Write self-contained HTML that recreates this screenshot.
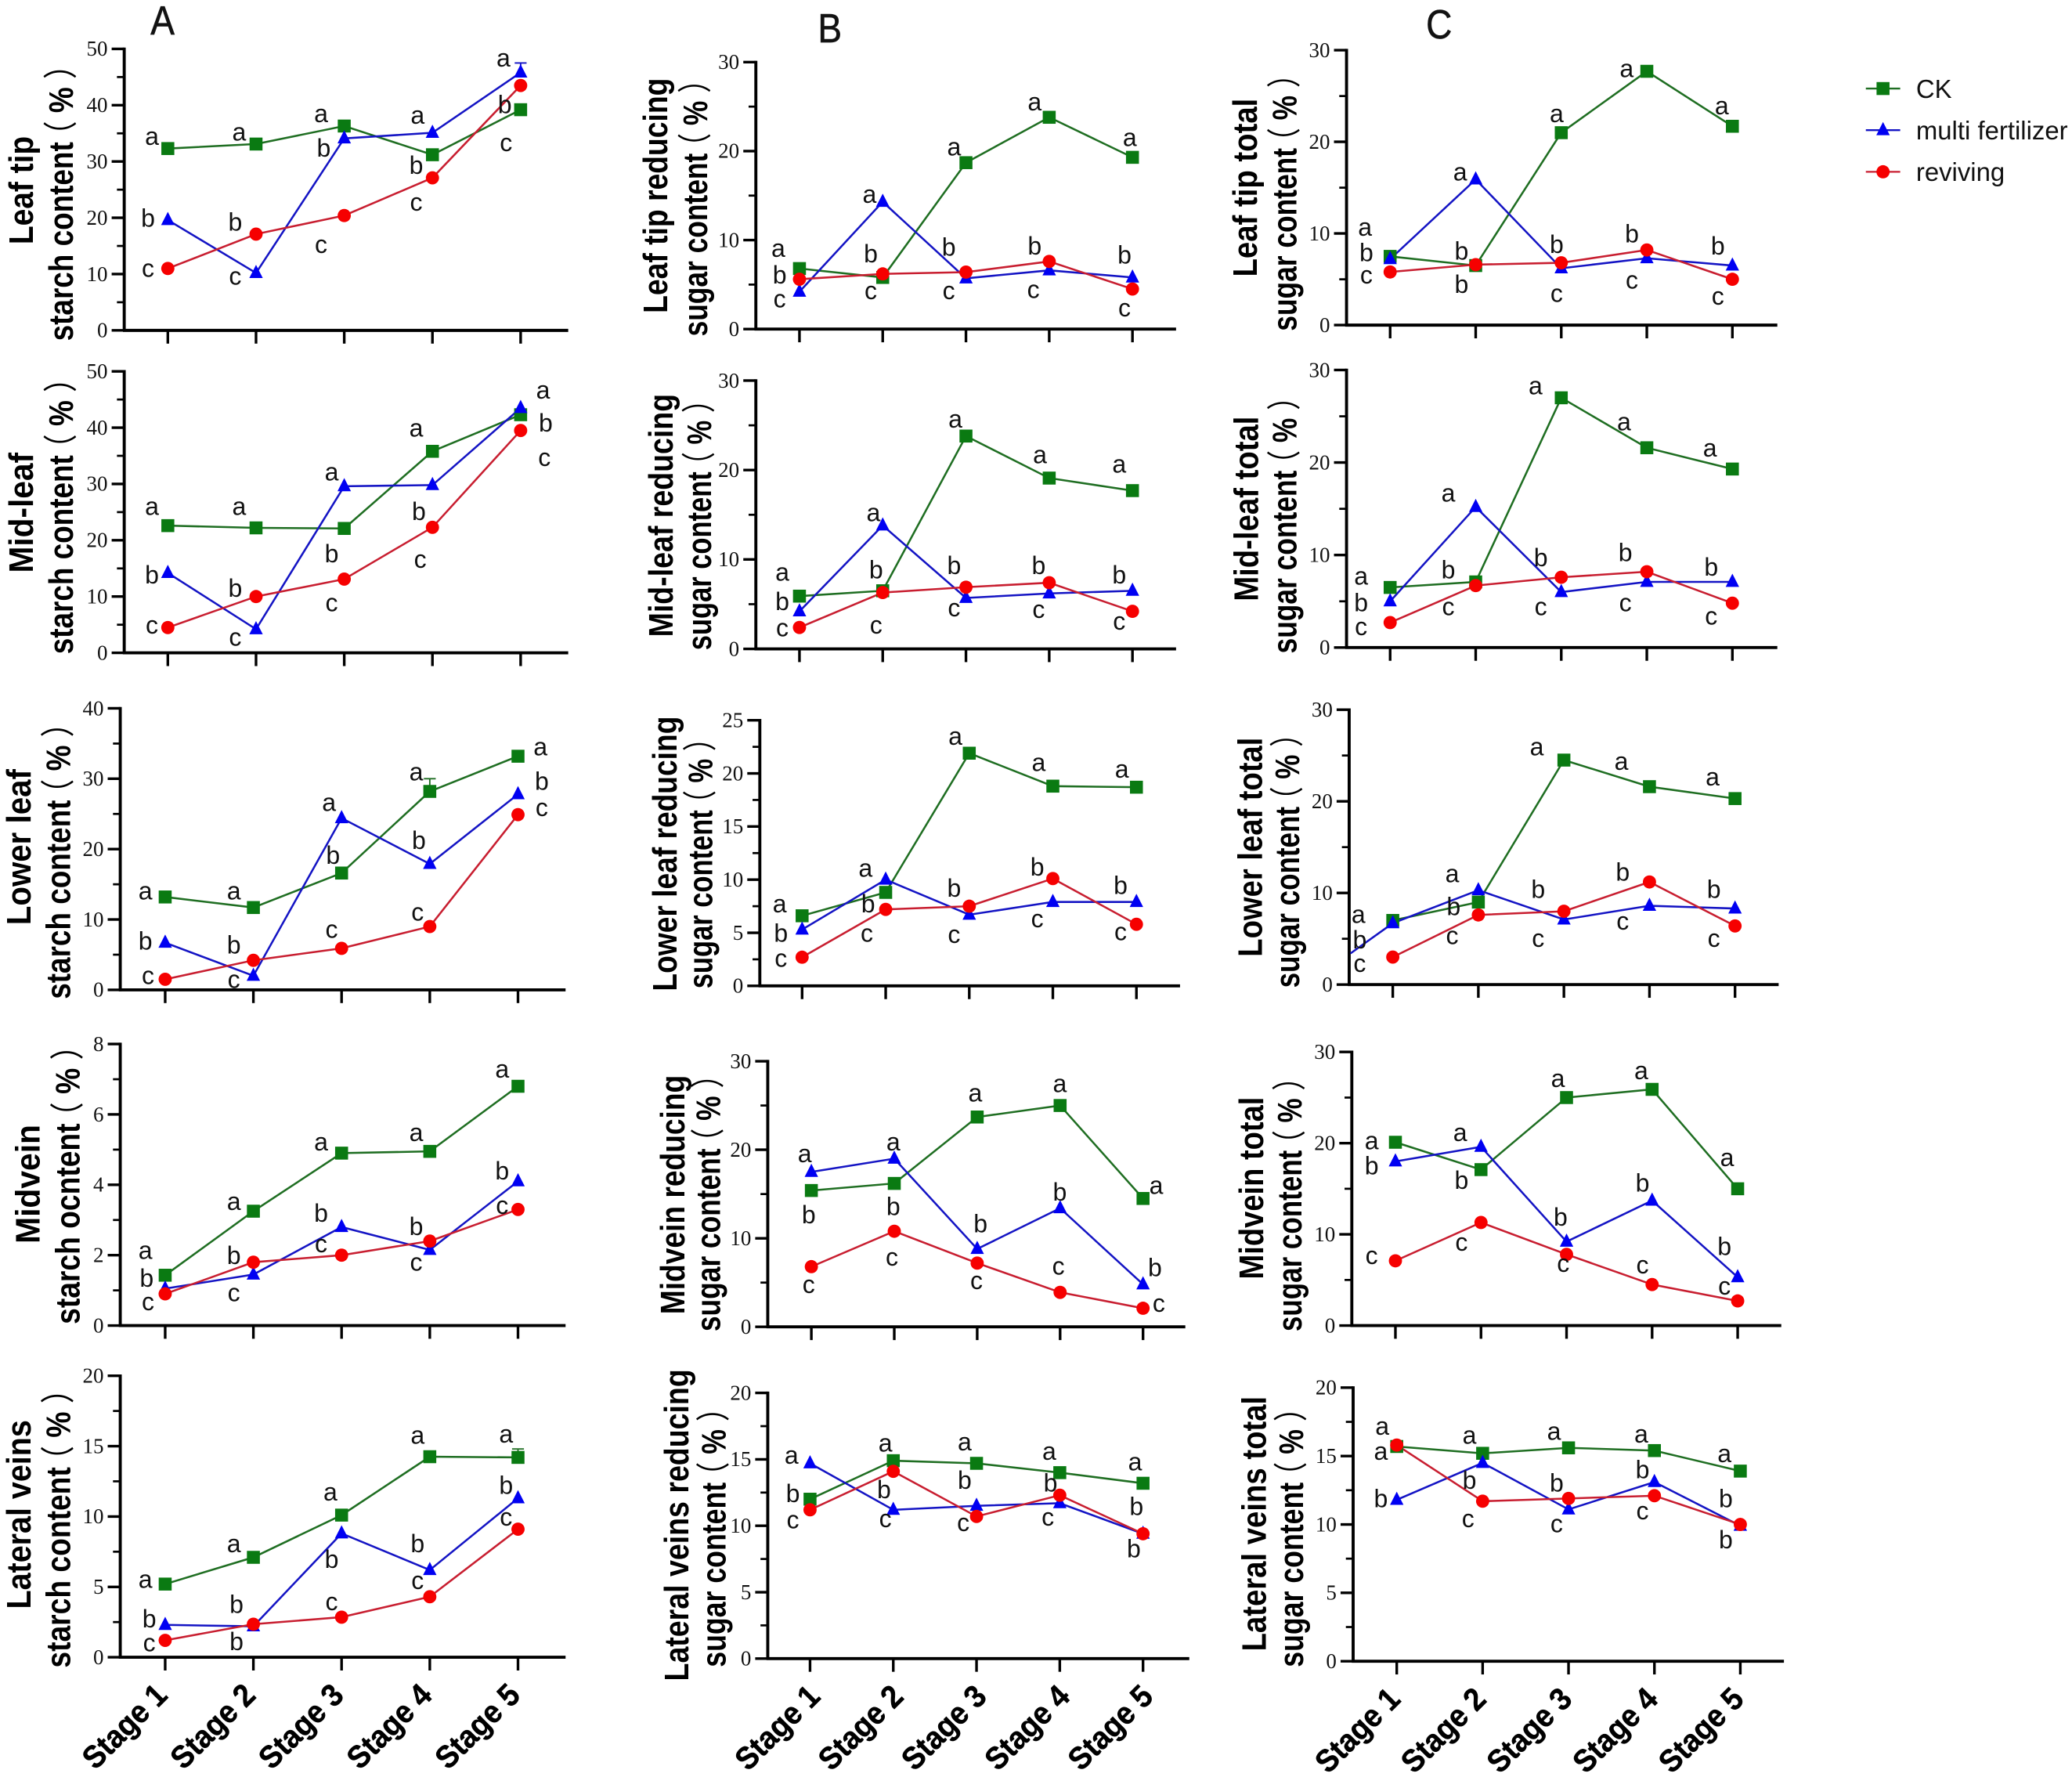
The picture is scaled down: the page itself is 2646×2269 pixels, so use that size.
<!DOCTYPE html>
<html lang="en">
<head>
<meta charset="utf-8">
<title>Starch and sugar content by leaf part and stage</title>
<style>
html,body{margin:0;padding:0;background:#fff;}
svg{display:block;}
</style>
</head>
<body>
<svg id="figure" xmlns="http://www.w3.org/2000/svg" width="2646" height="2269" viewBox="0 0 1568 1344.6"></svg>
<script>
const stages = ['Stage 1','Stage 2','Stage 3','Stage 4','Stage 5'];
const legendLabels = ['CK','multi fertilizer','reviving'];

const ticks50 = [0,10,20,30,40,50];
const ticks40 = [0,10,20,30,40];
const ticks30 = [0,10,20,30];
const ticks25 = [0,5,10,15,20,25];
const ticks20 = [0,5,10,15,20];
const ticks8 = [0,2,4,6,8];

const ckA1 = [32.3,33.1,36.3,31.2,39.2];
const mfA1 = [19.6,10.2,34.1,35.1,45.8];
const rvA1 = [11,17.1,20.4,27.1,43.5];
const ckA2 = [22.6,22.2,22.1,35.8,42.3];
const mfA2 = [14.2,4.2,29.6,29.8,43.5];
const rvA2 = [4.5,10,13.1,22.3,39.5];
const ckA3 = [13.2,11.7,16.6,28.2,33.2];
const mfA3 = [6.7,2,24.4,17.9,27.8];
const rvA3 = [1.5,4.2,5.9,9,24.9];
const ckA4 = [1.43,3.25,4.9,4.95,6.8];
const mfA4 = [1.05,1.45,2.8,2.15,4.1];
const rvA4 = [0.9,1.8,2,2.4,3.3];
const ckA5 = [5.2,7.1,10.1,14.25,14.2];
const mfA5 = [2.3,2.2,8.8,6.2,11.3];
const rvA5 = [1.2,2.35,2.85,4.3,9.1];

const ckB1 = [6.8,5.8,18.7,23.8,19.3];
const mfB1 = [4.2,14.3,5.7,6.6,5.8];
const rvB1 = [5.6,6.2,6.4,7.6,4.5];
const ckB2 = [5.9,6.5,23.8,19.1,17.7];
const mfB2 = [4.2,13.8,5.7,6.2,6.5];
const rvB2 = [2.4,6.3,6.9,7.4,4.2];
const ckB3 = [6.6,8.8,21.9,18.8,18.7];
const mfB3 = [5.3,10,6.7,7.9,7.9];
const rvB3 = [2.7,7.2,7.5,10.1,5.8];
const ckB4 = [15.4,16.2,23.7,25,14.5];
const mfB4 = [17.5,19,8.8,13.4,4.8];
const rvB4 = [6.8,10.8,7.2,3.9,2.1];
const ckB5 = [12,14.9,14.7,14,13.2];
const mfB5 = [14.7,11.2,11.5,11.7,9.4];
const rvB5 = [11.2,14.1,10.7,12.3,9.4];

const ckC1 = [7.5,6.5,21,27.7,21.7];
const mfC1 = [7.2,15.9,6.2,7.3,6.5];
const rvC1 = [5.8,6.6,6.8,8.2,5];
const ckC2 = [6.5,7.1,27,21.6,19.3];
const mfC2 = [5,15.2,6,7.1,7.1];
const rvC2 = [2.7,6.7,7.6,8.2,4.8];
const ckC3 = [7,9,24.5,21.6,20.3];
const mfC3 = [6.7,10.3,7.1,8.6,8.3];
const rvC3 = [3,7.6,8,11.2,6.4];
const ckC4 = [20.1,17.1,25,25.9,15];
const mfC4 = [18,19.6,9.2,13.7,5.3];
const rvC4 = [7.1,11.3,7.8,4.5,2.7];
const ckC5 = [15.7,15.2,15.6,15.4,13.9];
const mfC5 = [11.8,14.5,11.1,13.1,9.9];
const rvC5 = [15.8,11.7,11.9,12.1,10];

/* error-bar half-widths, only where visible in the figure */
const mfA1Err = [0,0,0,0,1.7];
const ckA3Err = [0,0,0,1.8,0];
const ckA5Err = [0,0,0,0,0.6];

/* significance-letter annotation layout: letter, centre x, centre y */
const lettersA1 = [['a',115,103],['a',181,100],['a',243,86],['a',316,87],['a',381,44],['b',112,165],['b',178,168],['b',245,112],['b',315,125],['b',382,79],['c',112,203],['c',178,209],['c',243,185],['c',315,153],['c',383,108]];
const lettersA2 = [['a',115,383],['a',181,383],['a',251,357],['a',315,324],['a',411,295],['b',115,435],['b',178,445],['b',251,419],['b',317,387],['b',413,320],['c',115,473],['c',178,482],['c',251,456],['c',318,423],['c',412,346]];
const lettersA3 = [['a',110,674],['a',177,674],['a',249,607],['a',315,584],['a',409,565],['b',110,712],['b',177,715],['b',252,647],['b',317,636],['b',410,591],['c',112,738],['c',177,741],['c',251,703],['c',316,690],['c',410,611]];
const lettersA4 = [['a',110,946],['a',177,909],['a',243,864],['a',315,857],['a',380,809],['b',111,967],['b',177,950],['b',243,918],['b',315,928],['b',380,886],['c',112,985],['c',177,978],['c',243,941],['c',315,955],['c',380,912]];
const lettersA5 = [['a',110,1195],['a',177,1168],['a',250,1129],['a',316,1086],['a',383,1085],['b',113,1225],['b',179,1214],['b',251,1180],['b',316,1168],['b',383,1124],['c',113,1243],['b',179,1242],['c',251,1212],['c',316,1196],['c',383,1148]];

const lettersB1 = [['a',589,188],['a',658,147],['a',722,111],['a',783,77],['a',855,104],['b',590,208],['b',659,192],['b',718,187],['b',783,186],['b',851,193],['c',590,226],['c',659,220],['c',718,220],['c',782,219],['c',851,233]];
const lettersB2 = [['a',592,433],['a',661,388],['a',723,317],['a',787,344],['a',847,351],['b',592,455],['b',663,431],['b',722,428],['b',786,428],['b',847,435],['c',592,475],['c',663,473],['c',722,460],['c',786,461],['c',847,470]];
const lettersB3 = [['a',590,684],['a',655,657],['a',723,557],['a',786,577],['a',849,582],['b',591,706],['b',657,684],['b',722,672],['b',785,656],['b',848,670],['c',591,725],['c',656,706],['c',722,707],['c',785,695],['c',848,705]];
const lettersB4 = [['a',609,873],['a',676,864],['a',738,827],['a',802,820],['a',875,897],['b',612,919],['b',676,913],['b',742,926],['b',802,902],['b',874,959],['c',612,972],['c',675,951],['c',739,969],['c',801,958],['c',877,986]];
const lettersB5 = [['a',599,1101],['a',670,1092],['a',730,1091],['a',794,1098],['a',859,1106],['b',600,1130],['b',669,1127],['b',730,1120],['b',795,1122],['b',860,1140],['c',600,1150],['c',670,1149],['c',729,1152],['c',793,1148],['b',858,1172]];

const lettersC1 = [['a',1033,172],['a',1105,130],['a',1178,86],['a',1231,52],['a',1303,80],['b',1034,191],['b',1106,190],['b',1178,185],['b',1235,177],['b',1300,186],['c',1034,208],['b',1106,215],['c',1178,222],['c',1235,212],['c',1300,224]];
const lettersC2 = [['a',1030,436],['a',1096,373],['a',1162,292],['a',1229,319],['a',1294,339],['b',1030,456],['b',1096,431],['b',1166,422],['b',1230,418],['b',1295,429],['c',1030,474],['c',1096,459],['c',1166,459],['c',1230,456],['c',1295,466]];
const lettersC3 = [['a',1028,692],['a',1099,661],['a',1163,565],['a',1227,576],['a',1296,588],['b',1029,711],['b',1100,686],['b',1164,673],['b',1228,660],['b',1297,673],['c',1029,729],['c',1099,708],['c',1164,710],['c',1228,697],['c',1297,710]];
const lettersC4 = [['a',1038,863],['a',1105,857],['a',1179,816],['a',1242,810],['a',1307,876],['b',1038,882],['b',1106,893],['b',1181,921],['b',1243,895],['b',1305,943],['c',1038,950],['c',1106,940],['c',1183,956],['c',1243,957],['c',1305,973]];
const lettersC5 = [['a',1046,1079],['a',1045,1098],['a',1112,1086],['a',1176,1083],['a',1242,1085],['a',1305,1100],['b',1045,1134],['b',1112,1120],['b',1178,1122],['b',1243,1112],['b',1306,1134],['c',1111,1149],['c',1178,1153],['c',1243,1143],['b',1306,1165]];

const panels = [
 {id:'a1',axisX:94,xEnd:430,yTop:37,y0:250,x1:127,x5:394,ticks:ticks50,ck:ckA1,mf:mfA1,rv:rvA1,mfErr:mfA1Err,letters:lettersA1,t1:['Leaf tip',17,144,82],t2:['starch content',47,148,220]},
 {id:'a2',axisX:94,xEnd:430,yTop:281,y0:494,x1:127,x5:394,ticks:ticks50,ck:ckA2,mf:mfA2,rv:rvA2,letters:lettersA2,t1:['Mid-leaf',17,388,91],t2:['starch content',47,385,220]},
 {id:'a3',axisX:91,xEnd:428,yTop:536,y0:749,x1:125,x5:392,ticks:ticks40,ck:ckA3,mf:mfA3,rv:rvA3,ckErr:ckA3Err,letters:lettersA3,t1:['Lower leaf',15,641,118],t2:['starch content',45,646,220]},
 {id:'a4',axisX:91,xEnd:428,yTop:790,y0:1003,x1:125,x5:392,ticks:ticks8,ck:ckA4,mf:mfA4,rv:rvA4,letters:lettersA4,t1:['Midvein',22,896,90],t2:['starch ocntent',52,891,222]},
 {id:'a5',axisX:91,xEnd:428,yTop:1041,y0:1254,x1:125,x5:392,ticks:ticks20,ck:ckA5,mf:mfA5,rv:rvA5,ckErr:ckA5Err,letters:lettersA5,stageDx:-25,t1:['Lateral veins',15,1146,143],t2:['starch content',45,1151,222]},

 {id:'b1',axisX:572,xEnd:890,yTop:47,y0:249,x1:605,x5:857,ticks:ticks30,ck:ckB1,mf:mfB1,rv:rvB1,letters:lettersB1,t1:['Leaf tip reducing',497,148,178],t2:['sugar content',527,152,205]},
 {id:'b2',axisX:572,xEnd:890,yTop:288,y0:491,x1:605,x5:857,ticks:ticks30,ck:ckB2,mf:mfB2,rv:rvB2,letters:lettersB2,t1:['Mid-leaf reducing',501,390,184],t2:['sugar content',530,392,200]},
 {id:'b3',axisX:575,xEnd:893,yTop:545,y0:746,x1:607,x5:860,ticks:ticks25,ck:ckB3,mf:mfB3,rv:rvB3,letters:lettersB3,t1:['Lower leaf reducing',504,646,208],t2:['sugar content',531,648,200]},
 {id:'b4',axisX:581,xEnd:897,yTop:803,y0:1004,x1:614,x5:865,ticks:ticks30,ck:ckB4,mf:mfB4,rv:rvB4,letters:lettersB4,t1:['Midvein reducing',510,904,181],t2:['sugar content',537,905,205]},
 {id:'b5',axisX:581,xEnd:900,yTop:1054,y0:1255,x1:613,x5:865,ticks:ticks20,ck:ckB5,mf:mfB5,rv:rvB5,letters:lettersB5,stageDx:-19,t1:['Lateral veins reducing',513,1154,236],t2:['sugar content',541,1158,207]},

 {id:'c1',axisX:1019,xEnd:1345,yTop:38,y0:246,x1:1052,x5:1311,ticks:ticks30,ck:ckC1,mf:mfC1,rv:rvC1,letters:lettersC1,t1:['Leaf tip total',943,142,135],t2:['sugar content',973,148,205]},
 {id:'c2',axisX:1019,xEnd:1345,yTop:280,y0:490,x1:1052,x5:1311,ticks:ticks30,ck:ckC2,mf:mfC2,rv:rvC2,letters:lettersC2,t1:['Mid-leaf total',944,385,140],t2:['sugar content',973,392,205]},
 {id:'c3',axisX:1021,xEnd:1346,yTop:537,y0:745,x1:1054,x5:1313,ticks:ticks30,ck:ckC3,mf:mfC3,rv:rvC3,mfLead:3.4,letters:lettersC3,t1:['Lower leaf total',947,641,166],t2:['sugar content',975,646,203]},
 {id:'c4',axisX:1023,xEnd:1348,yTop:796,y0:1003,x1:1056,x5:1315,ticks:ticks30,ck:ckC4,mf:mfC4,rv:rvC4,letters:lettersC4,t1:['Midvein total',948,899,138],t2:['sugar content',977,906,203]},
 {id:'c5',axisX:1024,xEnd:1350,yTop:1050,y0:1257,x1:1057,x5:1317,ticks:ticks20,ck:ckC5,mf:mfC5,rv:rvC5,letters:lettersC5,stageDx:-24,t1:['Lateral veins total',950,1153,193],t2:['sugar content',978,1158,207]}
];

const SANS = '"Liberation Sans","Noto Sans CJK SC",sans-serif';
const SERIF = '"Liberation Serif",serif';
const INK = '#000';
const seriesStyle = {
  ck:{fill:'#0a7a12',line:'#1f6e22',name:'ck'},
  mf:{fill:'#0000f2',line:'#1414c4',name:'multi-fertilizer'},
  rv:{fill:'#f60000',line:'#c81e30',name:'reviving'}
};
const root = document.getElementById('figure');
const NS = 'http://www.w3.org/2000/svg';
function make(tag, attrs, parent, text){
  const e = document.createElementNS(NS, tag);
  for (const k in attrs) e.setAttribute(k, attrs[k]);
  if (text !== undefined) e.textContent = text;
  (parent || root).appendChild(e);
  return e;
}
function drawMarker(kind, cx, cy, parent){
  const st = seriesStyle[kind];
  let m;
  if (kind === 'ck') m = make('rect',{x:cx-4.9,y:cy-4.9,width:9.8,height:9.8,fill:st.fill},parent);
  else if (kind === 'mf') m = make('path',{d:`M${cx} ${cy-6.2}L${cx+5.1} ${cy+3.8}L${cx-5.1} ${cy+3.8}Z`,fill:st.fill},parent);
  else m = make('circle',{cx:cx,cy:cy,r:5,fill:st.fill},parent);
  return m;
}

panels.forEach(function(p){
  const g = make('g',{});
  
  
  const maxV = p.ticks[p.ticks.length-1];
  const xScale = function(i){ return p.x1 + i*(p.x5-p.x1)/(stages.length-1); };
  const yScale = function(v){ return p.y0 - v/maxV*(p.y0-p.yTop); };

  /* y axis + ticks */
  const yAxis = make('line',{x1:p.axisX,x2:p.axisX,y1:p.yTop-1,y2:p.y0+1,stroke:INK,'stroke-width':2.3},g);
  
  
  const step = p.ticks[1]-p.ticks[0];
  p.ticks.forEach(function(t,i){
    const ty = yScale(t);
    const tick = make('line',{x1:p.axisX-9.5,x2:p.axisX,y1:ty,y2:ty,stroke:INK,'stroke-width':2},g);
    
    
    const lab = make('text',{x:p.axisX-12.5,y:ty+5.2,'text-anchor':'end','font-family':SERIF,'font-size':16,fill:'#111'},g,String(t));
    
    
    if (i < p.ticks.length-1){
      const my = yScale(t+step/2);
      const minor = make('line',{x1:p.axisX-5.5,x2:p.axisX,y1:my,y2:my,stroke:INK,'stroke-width':1.6},g);
      
      
    }
  });

  /* x axis + ticks */
  const xAxis = make('line',{x1:p.axisX-1,x2:p.xEnd,y1:p.y0,y2:p.y0,stroke:INK,'stroke-width':2.3},g);
  
  
  stages.forEach(function(s,i){
    const tx = xScale(i);
    const tick = make('line',{x1:tx,x2:tx,y1:p.y0,y2:p.y0+10,stroke:INK,'stroke-width':2},g);
    
    
    if (p.stageDx !== undefined){
      const lab = make('text',{transform:`translate(${tx+p.stageDx},${p.y0+58}) rotate(-45)`,'text-anchor':'middle','font-family':SANS,'font-weight':'bold','font-size':24,textLength:79,lengthAdjust:'spacingAndGlyphs',stroke:'#000','stroke-width':0.3,fill:'#000'},g,s);
      
      
    }
  });

  /* axis titles */
  const title1 = make('text',{transform:`translate(${p.t1[1]+8},${p.t1[2]}) rotate(-90)`,'text-anchor':'middle','font-family':SANS,'font-weight':'bold','font-size':26,textLength:p.t1[3],lengthAdjust:'spacingAndGlyphs',fill:'#000'},g,p.t1[0]);
  
  
  const title2 = make('text',{transform:`translate(${p.t2[1]+8},${p.t2[2]}) rotate(-90)`,'text-anchor':'middle','font-family':SANS,'font-weight':'bold','font-size':26,textLength:p.t2[3],lengthAdjust:'spacingAndGlyphs',fill:'#000'},g,p.t2[0]);
  
  
  make('tspan',{'font-weight':'normal',dx:-7},title2,'\uFF08');
  make('tspan',{},title2,' % ');
  make('tspan',{'font-weight':'normal'},title2,'\uFF09');

  /* series: lines first, then error bars and markers */
  ['ck','mf','rv'].forEach(function(kind){
    const values = p[kind];
    let pts = values.map(function(v,i){ return xScale(i)+','+yScale(v); });
    if (kind === 'mf' && p.mfLead !== undefined) pts = [(p.axisX+1)+','+yScale(p.mfLead)].concat(pts);
    const line = make('polyline',{points:pts.join(' '),fill:'none',stroke:seriesStyle[kind].line,'stroke-width':1.5},g);
    
    
  });
  ['ck','mf','rv'].forEach(function(kind){
    const values = p[kind];
    const errs = p[kind+'Err'];
    values.forEach(function(v,i){
      const cx = xScale(i), cy = yScale(v);
      if (errs && errs[i] > 0){
        const top = yScale(v+errs[i]);
        const bar = make('path',{d:`M${cx} ${cy}V${top}M${cx-4.5} ${top}H${cx+4.5}`,fill:'none',stroke:seriesStyle[kind].line,'stroke-width':1.1},g);
        
        
      }
      const m = drawMarker(kind,cx,cy,g);
      
      
    });
  });

  /* significance letters */
  p.letters.forEach(function(l){
    const t = make('text',{x:l[1],y:l[2]+6.5,'text-anchor':'middle','font-family':SANS,'font-size':19,fill:'#111'},g,l[0]);
    
    
  });
});

/* column letters */
[['A',123,26],['B',628,32],['C',1089,29]].forEach(function(c){
  const t = make('text',{transform:`translate(${c[1]},${c[2]}) scale(.88,1)`,'text-anchor':'middle','font-family':SANS,'font-size':31,stroke:'#222','stroke-width':0.4,fill:'#111'},root,c[0]);
  
  
});

/* legend */
const legend = make('g',{});


['ck','mf','rv'].forEach(function(kind,i){
  const ly = 67 + i*31.5;
  const sw = make('line',{x1:1412,x2:1438,y1:ly,y2:ly,stroke:seriesStyle[kind].line,'stroke-width':1.4},legend);
  
  
  const mk = drawMarker(kind,1425,ly,legend);
  
  
  const tx = make('text',{x:1450,y:ly+7,'font-family':SANS,'font-size':19.5,fill:'#111'},legend,legendLabels[i]);
  
  
});
</script>
</body>
</html>
